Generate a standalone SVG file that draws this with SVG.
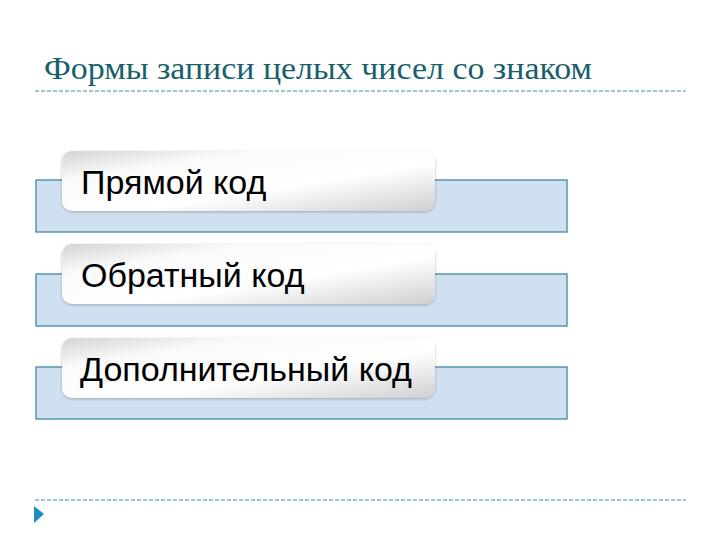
<svg xmlns="http://www.w3.org/2000/svg" width="720" height="540" viewBox="0 0 720 540">
<style>
.title{font-family:"Liberation Serif","DejaVu Serif",serif;font-size:31px;fill:#175f6b}
.dash{stroke:#3f8f9a;stroke-width:1;stroke-dasharray:4 2;fill:none}
.band{fill:#cfe0f1;stroke:#3f8aa0;stroke-width:1.3}
.pill{fill:url(#g);filter:url(#sh)}
.lbl{font-family:"Liberation Sans",Arial,sans-serif;font-size:34px;fill:#000}
</style>
<defs>
<linearGradient id="g" x1="0" y1="0" x2="1" y2="1">
<stop offset="0" stop-color="#d4d4d4"/>
<stop offset="0.25" stop-color="#fafafa"/>
<stop offset="0.6" stop-color="#ffffff"/>
<stop offset="1" stop-color="#cfcfcf"/>
</linearGradient>
<filter id="sh" x="-5%" y="-20%" width="110%" height="140%">
<feGaussianBlur in="SourceAlpha" stdDeviation="1.5"/>
<feOffset dy="1"/>
<feComponentTransfer><feFuncA type="linear" slope="0.25"/></feComponentTransfer>
<feMerge><feMergeNode/><feMergeNode in="SourceGraphic"/></feMerge>
</filter>
</defs>
<rect width="720" height="540" fill="#fff"/>
<text class="title" x="44" y="79" textLength="548" lengthAdjust="spacingAndGlyphs">Формы записи целых чисел со знаком</text>
<line class="dash" x1="35" y1="91" x2="686" y2="91"/>
<line class="dash" x1="35" y1="500" x2="686" y2="500"/>
<polygon points="34,506 44,514 34,523" fill="#1a8fc0"/>
<g id="node1">
<rect class="band" x="36" y="180" width="531" height="52"/>
<rect class="pill" x="62" y="151" width="373" height="60" rx="10"/>
<text class="lbl" x="81" y="194">Прямой код</text>
</g>
<g id="node2">
<rect class="band" x="36" y="274" width="531" height="52"/>
<rect class="pill" x="62" y="244" width="373" height="60" rx="10"/>
<text class="lbl" x="81" y="287">Обратный код</text>
</g>
<g id="node3">
<rect class="band" x="36" y="367" width="531" height="52"/>
<rect class="pill" x="62" y="338" width="373" height="60" rx="10"/>
<text class="lbl" x="80" y="381">Дополнительный код</text>
</g>
<g id="connectors"></g>
</svg>
